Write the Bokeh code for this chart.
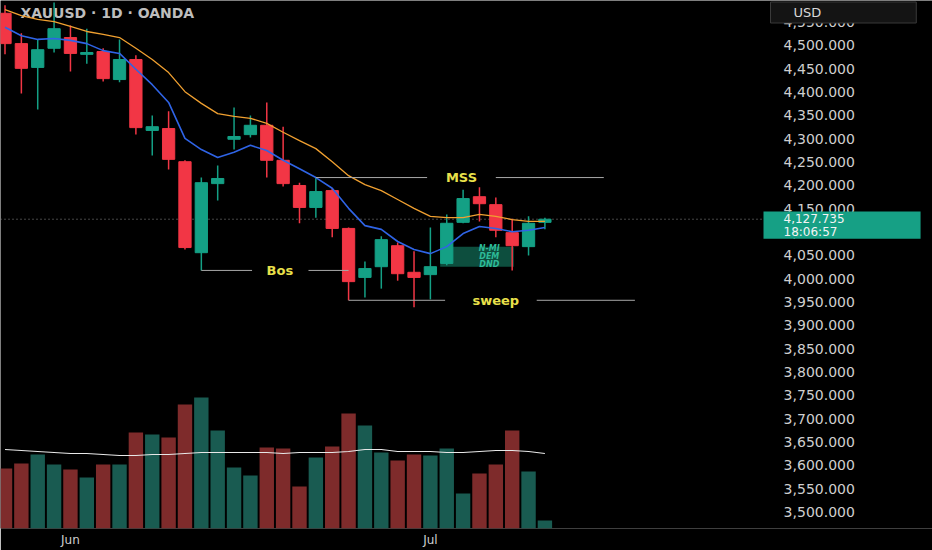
import numpy as np
import pandas as pd
from bokeh.plotting import figure
from bokeh.models import (Range1d, FixedTicker, Label, BoxAnnotation, ColumnDataSource)
from bokeh.core.properties import value
from bokeh.embed import file_html
from bokeh.resources import INLINE

# ---------------- data ----------------
symbol_title = "XAUUSD · 1D · OANDA"
currency = "USD"
countdown = "18:06:57"
start_date = "2026-05-26"

opens  = [4569, 4504, 4453, 4494, 4517, 4481, 4487, 4427, 4470, 4318, 4322, 4251, 4056, 4204, 4299, 4309, 4329,
          4254, 4200, 4153, 4189, 4108, 4003, 4026, 4071, 4014, 4009, 4033, 4121, 4176, 4159, 4099, 4069, 4121]
highs  = [4586, 4526, 4513, 4592, 4543, 4536, 4494, 4513, 4479, 4350, 4359, 4254, 4217, 4243, 4367, 4350, 4378,
          4326, 4206, 4217, 4194, 4110, 4037, 4091, 4078, 4059, 4110, 4138, 4191, 4196, 4174, 4129, 4134, 4131]
lows   = [4481, 4397, 4363, 4485, 4444, 4461, 4423, 4421, 4309, 4264, 4234, 4063, 4018, 4168, 4277, 4303, 4217,
          4198, 4119, 4131, 4089, 3954, 3960, 3979, 3996, 3939, 3956, 4029, 4119, 4123, 4089, 4018, 4050, 4106]
closes = [4504, 4451, 4491, 4536, 4483, 4485, 4429, 4470, 4324, 4326, 4256, 4067, 4206, 4215, 4305, 4329, 4254,
          4204, 4153, 4187, 4108, 3994, 4022, 4084, 4011, 4003, 4026, 4119, 4172, 4161, 4104, 4071, 4119, 4127.735]
ema_fast = [4539, 4521, 4513, 4515, 4511, 4504, 4489, 4483, 4449, 4416, 4378, 4301, 4277, 4260, 4271, 4286, 4275,
            4254, 4236, 4217, 4194, 4151, 4114, 4106, 4080, 4063, 4054, 4069, 4097, 4112, 4108, 4101, 4104, 4110]
ema_slow = [4577, 4564, 4556, 4551, 4541, 4530, 4524, 4517, 4494, 4470, 4442, 4401, 4376, 4354, 4348, 4344, 4333,
            4314, 4296, 4279, 4251, 4221, 4202, 4189, 4170, 4151, 4134, 4131, 4131, 4138, 4134, 4127, 4123, 4123]
volume = [60, 65, 74, 64, 59, 51, 64, 64, 96, 94, 91, 124, 131, 98, 61, 53, 81, 80, 42, 71, 82, 115, 103, 76,
          68, 74, 73, 80, 35, 55, 64, 98, 57, 8]
vol_ma = [79, 78, 77, 76, 75, 75, 74, 73, 73, 74, 74, 75, 76, 76, 76, 76, 76, 75, 76, 76, 76, 77, 79, 79,
          77, 77, 77, 76, 76, 77, 78, 78, 77, 75]
price_ticks = list(range(3500, 4551, 50))
price_tick_labels = [f"{t:,.3f}" for t in price_ticks]

# ---------------- styles ----------------
UP, DOWN = "#14a085", "#f23645"
VUP, VDOWN = "#195b51", "#7e2b2b"
TXT = "#cfcfcf"
FONT = "DejaVu Sans"

n = len(closes)
xs = np.arange(n)
dates = pd.bdate_range(start_date, periods=n)
is_up = [c >= o for o, c in zip(opens, closes)]

src = ColumnDataSource(dict(
    x=xs, high=highs, low=lows,
    top=[max(o, c) for o, c in zip(opens, closes)],
    bottom=[min(o, c) for o, c in zip(opens, closes)],
    color=[UP if u else DOWN for u in is_up],
    vcolor=[VUP if u else VDOWN for u in is_up],
    volume=volume, vol_ma=vol_ma, ema_fast=ema_fast, ema_slow=ema_slow,
))

X0, X1 = -0.275, 56.69          # bar-index range across the full width
SCALE_X = 46.30                 # index where the price scale starts
LABEL_X = 47.59                 # index where price labels start

W, H = 932, 550
p = figure(width=W, height=H, x_range=Range1d(X0, X1), y_range=Range1d(3465.0, 4596.4),
           output_backend="svg", toolbar_location=None, y_axis_location=None,
           background_fill_color="#000000", border_fill_color="#000000",
           min_border_left=0, min_border_top=0, min_border_right=0, min_border_bottom=22)
p.outline_line_color = None
p.grid.visible = False
p.extra_y_ranges = {"vol": Range1d(0, 528)}

# title (behind the bars)
p.add_layout(Label(x=20, x_units="screen", y=4569.6, text=symbol_title, text_baseline="middle",
                   text_color="#bdbdbd", text_font=FONT, text_font_size="14px", text_font_style="bold",
                   level="underlay"))

# volume
p.vbar(x="x", top="volume", bottom=0, width=0.88, fill_color="vcolor", line_color=None,
       y_range_name="vol", source=src)
p.line(x="x", y="vol_ma", y_range_name="vol", line_color="#e8e8e8", line_width=1.1, source=src)

# pattern box
p.add_layout(BoxAnnotation(left=26.6, right=31.1, bottom=4026, top=4069, fill_color="#0e5645",
                           fill_alpha=0.9, line_color=None, level="underlay"))

# last price line
last = closes[-1]
p.segment(x0=[X0], x1=[SCALE_X], y0=[last], y1=[last], line_color="#8c8c8c", line_dash="1 3", line_width=1)

# candles
p.segment(x0="x", x1="x", y0="low", y1="high", line_color="color", line_width=1.5, source=src)
p.vbar(x="x", top="top", bottom="bottom", width=0.75, fill_color="color", line_color="color",
       line_width=1, source=src)

# moving averages
p.line(x="x", y="ema_slow", line_color="#f0a030", line_width=1.3, source=src)
p.line(x="x", y="ema_fast", line_color="#2f64e6", line_width=1.6, source=src)

p.add_layout(Label(x=29.6, y=4047, text="N-MI\nDEM\nDND", text_align="center", text_baseline="middle",
                   text_font=FONT, text_font_size="8px", text_font_style="bold italic",
                   text_color="#2dbb98", text_line_height=0.9))

# market-structure annotations
mss_level = highs[19]
bos_level = lows[12]
sweep_level = lows[21]
LINE = "#a8a8a8"
YEL = "#e9e04a"
p.segment(x0=[19, 30.0, 12, 18.55, 21, 32.5], x1=[25.8, 36.6, 15.1, 21, 26.9, 38.5],
          y0=[mss_level, mss_level, bos_level, bos_level, sweep_level, sweep_level],
          y1=[mss_level, mss_level, bos_level, bos_level, sweep_level, sweep_level],
          line_color=LINE, line_width=1)
for xx, yy, tt in [(27.9, mss_level, "MSS"), (16.8, bos_level, "Bos"), (30.0, sweep_level, "sweep")]:
    p.add_layout(Label(x=xx, y=yy, text=tt, text_align="center", text_baseline="middle",
                       text_font=FONT, text_font_size="13px", text_font_style="bold", text_color=YEL))

# price scale labels
p.text(x=[LABEL_X] * len(price_ticks), y=price_ticks, text=price_tick_labels,
       text_font=value(FONT), text_font_size=value("14px"), text_baseline="middle",
       text_align="left", text_color=TXT)

# time axis
month_idx = [i for i in range(1, n) if dates[i].month != dates[i - 1].month]
p.xaxis.ticker = FixedTicker(ticks=month_idx)
p.xaxis.major_label_overrides = {i: dates[i].strftime("%b") for i in month_idx}
p.xaxis.major_label_text_color = TXT
p.xaxis.major_label_text_font = FONT
p.xaxis.major_label_text_font_size = "12px"
p.xaxis.major_label_standoff = 4
p.xaxis.major_tick_out = 0
p.xaxis.major_tick_in = 0
p.xaxis.minor_tick_out = 0
p.xaxis.minor_tick_in = 0
p.xaxis.axis_line_color = None
p.xaxis.major_tick_line_color = None
p.xaxis.minor_tick_line_color = None

# last price tag and currency box on the price scale (box anchored at its left edge)
p.add_layout(Label(x=763, x_units="screen", y=last, text=f"{last:,.3f}\n{countdown}",
                   text_baseline="middle", y_offset=-6, text_color="#f4f4f4", text_font=FONT,
                   text_font_size="12px", text_line_height=0.95,
                   background_fill_color="#16a085", background_fill_alpha=1.0,
                   padding=dict(left=20, right=76, top=0, bottom=0)))

p.add_layout(Label(x=770, x_units="screen", y=4570.7, text=currency, text_baseline="middle",
                   text_color="#d8d8d8", text_font=FONT, text_font_size="13px",
                   background_fill_color="#141414", background_fill_alpha=1.0,
                   border_line_color="#3a3a3a", border_line_width=1,
                   padding=dict(left=23, right=95, top=3, bottom=3)))

open("out.html", "w").write(file_html(p, INLINE))
